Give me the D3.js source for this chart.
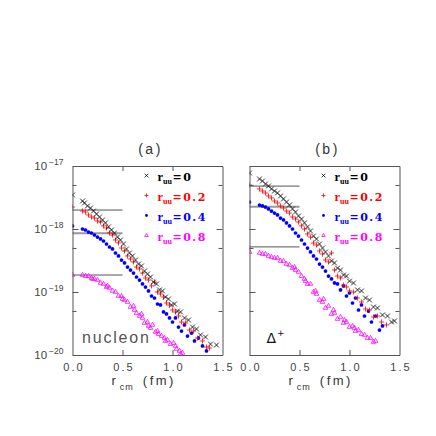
<!DOCTYPE html>
<html>
<head>
<meta charset="utf-8">
<script src="https://cdn.jsdelivr.net/npm/d3@7"></script>
<style>
  html, body { margin: 0; padding: 0; background: #fff; }
  svg { display: block; }
  .axis path, .axis line { stroke: #555; }
  .axis text { font-family: "Liberation Sans", Arial, sans-serif; fill: #444; }
</style>
</head>
<body>
<svg width="436" height="436"></svg>
<script>
// r_cm (fm) vs. value
var ruuLabels = ["0", "0.2", "0.4", "0.8"];
var xTickValues = [0.0, 0.5, 1.0, 1.5];
var yDecades = [1e-17, 1e-18, 1e-19, 1e-20];
var yMinorTicks = [5e-18, 5e-19, 5e-20];

var nucleonRuu0 = [[0.00,3.47e-18],[0.10,2.78e-18],[0.12,2.59e-18],[0.15,2.32e-18],[0.18,2.15e-18],[0.21,1.93e-18],[0.24,1.73e-18],[0.27,1.55e-18],[0.30,1.39e-18],[0.33,1.25e-18],[0.36,1.08e-18],[0.39,9.64e-19],[0.42,8.64e-19],[0.45,7.46e-19],[0.48,6.69e-19],[0.51,5.78e-19],[0.54,4.82e-19],[0.57,4.16e-19],[0.60,3.73e-19],[0.63,3.22e-19],[0.66,2.78e-19],[0.69,2.59e-19],[0.72,2.15e-19],[0.75,1.93e-19],[0.78,1.73e-19],[0.81,1.44e-19],[0.84,1.34e-19],[0.87,1.08e-19],[0.90,1.04e-19],[0.93,8.33e-20],[0.96,7.74e-20],[0.99,6.22e-20],[1.02,6.45e-20],[1.05,4.99e-20],[1.08,4.82e-20],[1.12,3.87e-20],[1.16,3.59e-20],[1.20,2.78e-20],[1.24,2.59e-20],[1.28,2.08e-20],[1.33,1.93e-20],[1.38,1.49e-20],[1.44,1.44e-20]];
var nucleonRuu02 = [[0.00,2.23e-18],[0.10,1.93e-18],[0.13,1.86e-18],[0.16,1.67e-18],[0.19,1.55e-18],[0.22,1.49e-18],[0.25,1.34e-18],[0.28,1.29e-18],[0.31,1.12e-18],[0.34,1.04e-18],[0.37,8.64e-19],[0.40,8.03e-19],[0.43,6.69e-19],[0.46,6.00e-19],[0.49,4.99e-19],[0.52,4.48e-19],[0.55,3.73e-19],[0.58,3.34e-19],[0.61,3.00e-19],[0.64,2.49e-19],[0.67,2.32e-19],[0.70,2.00e-19],[0.73,1.67e-19],[0.76,1.55e-19],[0.79,1.25e-19],[0.82,1.44e-19],[0.85,1.00e-19],[0.88,9.30e-20],[0.91,8.33e-20],[0.94,6.69e-20],[0.97,6.22e-20],[1.00,5.18e-20],[1.03,4.82e-20],[1.06,4.16e-20],[1.09,3.34e-20],[1.13,3.22e-20],[1.17,2.49e-20],[1.21,2.40e-20],[1.25,1.86e-20],[1.30,1.67e-20],[1.34,1.34e-20],[1.37,1.29e-20]];
var nucleonRuu04 = [[0.00,1.12e-18],[0.10,1.00e-18],[0.13,9.64e-19],[0.16,8.96e-19],[0.19,8.64e-19],[0.22,8.03e-19],[0.25,7.46e-19],[0.28,6.94e-19],[0.31,6.45e-19],[0.34,5.78e-19],[0.37,5.18e-19],[0.40,4.82e-19],[0.43,4.16e-19],[0.46,3.73e-19],[0.49,3.22e-19],[0.52,2.89e-19],[0.55,2.49e-19],[0.58,2.23e-19],[0.61,2.00e-19],[0.64,1.73e-19],[0.67,1.55e-19],[0.70,1.34e-19],[0.73,1.20e-19],[0.76,1.04e-19],[0.79,8.64e-20],[0.82,8.03e-20],[0.85,6.45e-20],[0.88,6.22e-20],[0.91,4.82e-20],[0.94,4.48e-20],[0.97,3.87e-20],[1.00,3.34e-20],[1.03,3.87e-20],[1.06,2.78e-20],[1.09,2.40e-20],[1.12,3.00e-20],[1.15,2.00e-20],[1.19,2.23e-20],[1.22,1.67e-20],[1.26,1.86e-20],[1.30,1.39e-20],[1.34,1.16e-20]];
var nucleonRuu08 = [[0.00,1.86e-19],[0.10,1.86e-19],[0.13,1.79e-19],[0.16,1.79e-19],[0.19,1.67e-19],[0.20,1.61e-19],[0.22,1.61e-19],[0.25,1.55e-19],[0.28,1.39e-19],[0.31,1.34e-19],[0.34,1.20e-19],[0.35,1.25e-19],[0.37,1.16e-19],[0.40,1.04e-19],[0.43,1.00e-19],[0.46,8.64e-20],[0.49,8.64e-20],[0.50,7.74e-20],[0.52,7.46e-20],[0.55,6.94e-20],[0.58,5.78e-20],[0.61,6.00e-20],[0.62,5.18e-20],[0.64,4.64e-20],[0.67,4.16e-20],[0.69,4.48e-20],[0.70,3.87e-20],[0.72,3.22e-20],[0.75,3.34e-20],[0.76,2.89e-20],[0.78,2.68e-20],[0.80,3.00e-20],[0.83,2.32e-20],[0.85,2.40e-20],[0.86,2.15e-20],[0.89,2.00e-20],[0.92,1.86e-20],[0.93,1.67e-20],[0.95,1.73e-20],[0.98,1.49e-20],[1.01,1.55e-20],[1.03,1.39e-20],[1.04,1.25e-20],[1.07,1.16e-20],[1.08,1.04e-20],[1.10,1.08e-20]];

var deltaRuu0 = [[0.00,7.74e-18],[0.10,6.22e-18],[0.13,5.78e-18],[0.16,5.18e-18],[0.19,4.82e-18],[0.22,4.32e-18],[0.25,4.01e-18],[0.28,3.73e-18],[0.31,3.34e-18],[0.34,3.00e-18],[0.37,2.68e-18],[0.40,2.40e-18],[0.43,2.08e-18],[0.46,1.86e-18],[0.49,1.61e-18],[0.52,1.44e-18],[0.55,1.25e-18],[0.58,1.08e-18],[0.61,9.30e-19],[0.64,7.74e-19],[0.67,6.94e-19],[0.70,5.78e-19],[0.73,4.99e-19],[0.76,4.32e-19],[0.79,3.73e-19],[0.82,3.11e-19],[0.85,2.89e-19],[0.88,2.40e-19],[0.91,2.23e-19],[0.94,1.86e-19],[0.97,1.79e-19],[1.00,1.49e-19],[1.04,1.39e-19],[1.08,1.08e-19],[1.12,1.04e-19],[1.16,8.03e-20],[1.20,7.46e-20],[1.24,5.78e-20],[1.28,5.58e-20],[1.33,4.32e-20],[1.38,4.16e-20],[1.42,3.34e-20],[1.45,3.47e-20]];
var deltaRuu02 = [[0.00,4.99e-18],[0.10,4.32e-18],[0.13,4.01e-18],[0.16,3.73e-18],[0.19,3.34e-18],[0.22,3.11e-18],[0.25,2.78e-18],[0.28,2.59e-18],[0.31,2.32e-18],[0.34,2.15e-18],[0.37,1.93e-18],[0.40,1.79e-18],[0.43,1.55e-18],[0.46,1.44e-18],[0.49,1.29e-18],[0.52,1.12e-18],[0.55,1.00e-18],[0.58,8.33e-19],[0.61,7.46e-19],[0.64,6.00e-19],[0.67,5.58e-19],[0.70,4.48e-19],[0.73,4.01e-19],[0.76,3.22e-19],[0.79,3.00e-19],[0.82,4.16e-19],[0.85,2.23e-19],[0.88,1.79e-19],[0.91,1.67e-19],[0.94,1.29e-19],[0.97,1.20e-19],[1.00,1.04e-19],[1.04,1.00e-19],[1.08,8.03e-20],[1.12,6.94e-20],[1.16,5.37e-20],[1.20,5.18e-20],[1.24,4.01e-20],[1.28,4.16e-20],[1.32,3.34e-20],[1.37,3.00e-20]];
var deltaRuu04 = [[0.00,2.68e-18],[0.10,2.40e-18],[0.13,2.32e-18],[0.16,2.23e-18],[0.19,2.08e-18],[0.22,1.93e-18],[0.25,1.79e-18],[0.28,1.67e-18],[0.31,1.49e-18],[0.34,1.39e-18],[0.37,1.25e-18],[0.40,1.12e-18],[0.43,1.00e-18],[0.46,8.64e-19],[0.49,7.74e-19],[0.52,6.69e-19],[0.55,5.78e-19],[0.58,4.99e-19],[0.61,4.32e-19],[0.64,3.73e-19],[0.67,3.34e-19],[0.70,2.78e-19],[0.73,2.49e-19],[0.76,2.15e-19],[0.79,1.79e-19],[0.82,1.61e-19],[0.85,1.39e-19],[0.88,1.34e-19],[0.91,1.08e-19],[0.94,1.25e-19],[0.97,8.64e-20],[1.00,9.64e-20],[1.03,6.69e-20],[1.06,8.03e-20],[1.09,5.18e-20],[1.12,6.22e-20],[1.15,4.16e-20],[1.19,4.99e-20],[1.22,3.34e-20],[1.26,4.16e-20],[1.30,2.49e-20],[1.33,2.89e-20]];
var deltaRuu08 = [[0.00,4.32e-19],[0.10,4.16e-19],[0.13,4.01e-19],[0.16,4.01e-19],[0.19,3.73e-19],[0.22,3.59e-19],[0.25,3.47e-19],[0.28,3.47e-19],[0.31,3.11e-19],[0.34,3.11e-19],[0.37,2.78e-19],[0.40,2.68e-19],[0.43,2.40e-19],[0.45,2.49e-19],[0.46,2.23e-19],[0.49,2.08e-19],[0.52,1.79e-19],[0.55,1.61e-19],[0.56,1.49e-19],[0.58,1.34e-19],[0.61,1.34e-19],[0.64,1.00e-19],[0.66,1.04e-19],[0.67,9.30e-20],[0.70,7.46e-20],[0.73,6.94e-20],[0.74,7.74e-20],[0.76,5.58e-20],[0.79,6.00e-20],[0.82,4.48e-20],[0.84,5.18e-20],[0.85,4.64e-20],[0.88,3.73e-20],[0.91,4.01e-20],[0.94,3.22e-20],[0.95,3.59e-20],[0.97,3.34e-20],[1.00,2.78e-20],[1.03,2.89e-20],[1.05,2.68e-20],[1.06,2.40e-20],[1.09,2.49e-20],[1.12,2.15e-20],[1.15,2.08e-20],[1.18,1.86e-20],[1.21,1.86e-20],[1.24,1.61e-20],[1.26,1.67e-20]];

// horizontal reference levels drawn from r=0 to r=0.5
var nucleonLevels = [2.0e-18, 8.6e-19, 1.86e-19];
var deltaLevels = [4.8e-18, 2.25e-18, 5.2e-19];
var levelEnd = 0.5;

var seriesColors = ["#000000", "#ff0000", "#0000ff", "#ff00ff"];
var seriesSymbols = [d3.symbolTimes, d3.symbolPlus, d3.symbolCircle, d3.symbolTriangle2];
var seriesSizes = [17, 10, 11, 15];

var panels = [
  { title: "(a)", left: 72.5, data: [nucleonRuu0, nucleonRuu02, nucleonRuu04, nucleonRuu08], levels: nucleonLevels, yLabels: true },
  { title: "(b)", left: 249.5, data: [deltaRuu0, deltaRuu02, deltaRuu04, deltaRuu08], levels: deltaLevels, yLabels: false }
];

var svg = d3.select("svg");
var top0 = 166;
var w = 150, h = 189;

var x = d3.scaleLinear([0, 1.5], [0, w]);
var y = d3.scaleLog([1e-20, 1e-17], [h, 0]);

function supLabel(sel) {
  sel.each(function (d) {
    var t = d3.select(this);
    var e = Math.round(Math.log10(d));
    t.text(null);
    t.append("tspan").text("10");
    t.append("tspan").attr("font-size", 8.5).attr("dy", "-0.6em").attr("dx", 2).text("\u2212" + Math.abs(e));
  });
}

panels.forEach(function (p, pi) {
  var g = svg.append("g").attr("transform", "translate(" + p.left + "," + top0 + ")");

  g.append("clipPath").attr("id", "clip" + pi)
    .append("rect").attr("width", w).attr("height", h);

  // reference levels
  g.selectAll(".level").data(p.levels).enter().append("line")
    .attr("x1", x(0)).attr("x2", x(levelEnd))
    .attr("y1", function (d) { return y(d); })
    .attr("y2", function (d) { return y(d); })
    .attr("stroke", function (d, i) { return i === 1 ? "#999" : "#555"; })
    .attr("stroke-width", function (d, i) { return i === 1 ? 2 : 1; });

  // points, last series first so black ends on top
  var plot = g.append("g").attr("clip-path", "url(#clip" + pi + ")");
  for (var s = 3; s >= 0; s--) {
    var sym = d3.symbol().type(seriesSymbols[s]).size(seriesSizes[s]);
    plot.append("g").selectAll("path").data(p.data[s]).enter().append("path")
      .attr("transform", function (d) { return "translate(" + x(d[0]) + "," + y(d[1]) + ")"; })
      .attr("d", sym)
      .attr("fill", s === 2 ? seriesColors[s] : "none")
      .attr("stroke", s === 2 ? "none" : seriesColors[s])
      .attr("stroke-width", 0.8);
  }

  // axes with inward ticks
  var bottom = g.append("g").attr("class", "axis").attr("transform", "translate(0," + h + ")")
    .call(d3.axisBottom(x).tickValues(xTickValues).tickSizeInner(-5).tickSizeOuter(0)
      .tickPadding(8).tickFormat(d3.format(".1f")));
  bottom.selectAll("text").attr("font-size", 11).attr("letter-spacing", 2).attr("dx", 1);
  bottom.selectAll(".tick line").filter(function (d) { return d === 0 || d === 1.5; }).remove();

  g.append("g").attr("class", "axis")
    .call(d3.axisTop(x).tickValues([0.5, 1.0]).tickSizeInner(-5).tickSizeOuter(0).tickFormat(""));

  var left = g.append("g").attr("class", "axis")
    .call(d3.axisLeft(y).tickValues(yDecades).tickSizeInner(-6).tickSizeOuter(0).tickPadding(9));
  left.selectAll("text").attr("font-size", 11.5);
  if (p.yLabels) left.selectAll("text").call(supLabel);
  else left.selectAll("text").remove();
  g.append("g").attr("class", "axis")
    .call(d3.axisLeft(y).tickValues(yMinorTicks).tickSizeInner(-4).tickSizeOuter(0).tickFormat(""))
    .select(".domain").remove();

  g.append("g").attr("class", "axis").attr("transform", "translate(" + w + ",0)")
    .call(d3.axisRight(y).tickValues(yDecades).tickSizeInner(-6).tickSizeOuter(0).tickFormat(""));
  g.append("g").attr("class", "axis").attr("transform", "translate(" + w + ",0)")
    .call(d3.axisRight(y).tickValues(yMinorTicks).tickSizeInner(-4).tickSizeOuter(0).tickFormat(""))
    .select(".domain").remove();

  // panel title
  g.append("text").attr("x", w / 2 + 3).attr("y", -12)
    .attr("text-anchor", "middle")
    .attr("font-family", "Liberation Sans, Arial, sans-serif")
    .attr("font-size", 14).attr("letter-spacing", 2.5).attr("fill", "#333")
    .text(p.title);

  // x axis label
  var xl = g.append("text").attr("x", 39).attr("y", h + 30)
    .attr("font-family", "Liberation Sans, Arial, sans-serif")
    .attr("fill", "#333").attr("font-size", 13);
  xl.append("tspan").text("r");
  xl.append("tspan").attr("font-size", 9).attr("dx", 4).attr("dy", 5).attr("letter-spacing", 1).text("cm");
  xl.append("tspan").attr("dx", 9).attr("dy", -5).attr("letter-spacing", 2.5).text("(fm)");

  // legend
  var lg = g.append("g").attr("transform", "translate(74,0)");
  ruuLabels.forEach(function (lab, i) {
    var sym = d3.symbol().type(seriesSymbols[i]).size(seriesSizes[i] * 0.6);
    lg.append("path")
      .attr("transform", "translate(0," + (9.5 + i * 20) + ")")
      .attr("d", sym)
      .attr("fill", i === 2 ? seriesColors[i] : "none")
      .attr("stroke", i === 2 ? "none" : seriesColors[i])
      .attr("stroke-width", 0.8);
    var t = lg.append("text").attr("x", 11).attr("y", 15 + i * 20)
      .attr("font-family", "'DejaVu Serif', serif")
      .attr("font-weight", "bold").attr("font-size", 11)
      .attr("fill", seriesColors[i]);
    t.append("tspan").attr("font-family", "'Liberation Serif', serif").attr("font-size", 12.5).text("r");
    t.append("tspan").attr("font-family", "'Liberation Serif', serif").attr("font-size", 8).attr("dy", 3).text("uu");
    t.append("tspan").attr("dy", -3).attr("dx", 0.5).attr("letter-spacing", 1.5).text("=" + lab);
  });
});

// particle labels inside the panels
svg.append("text").attr("x", 82).attr("y", 343)
  .attr("font-family", "Liberation Sans, Arial, sans-serif")
  .attr("font-size", 16).attr("letter-spacing", 1.8).attr("fill", "#555")
  .text("nucleon");
var dl = svg.append("text").attr("x", 266.5).attr("y", 343)
  .attr("font-family", "DejaVu Sans, sans-serif").attr("fill", "#111");
dl.append("tspan").attr("font-size", 14).text("\u0394");
dl.append("tspan").attr("font-size", 9).attr("dx", 1).attr("dy", -7).text("+");
</script>
</body>
</html>
